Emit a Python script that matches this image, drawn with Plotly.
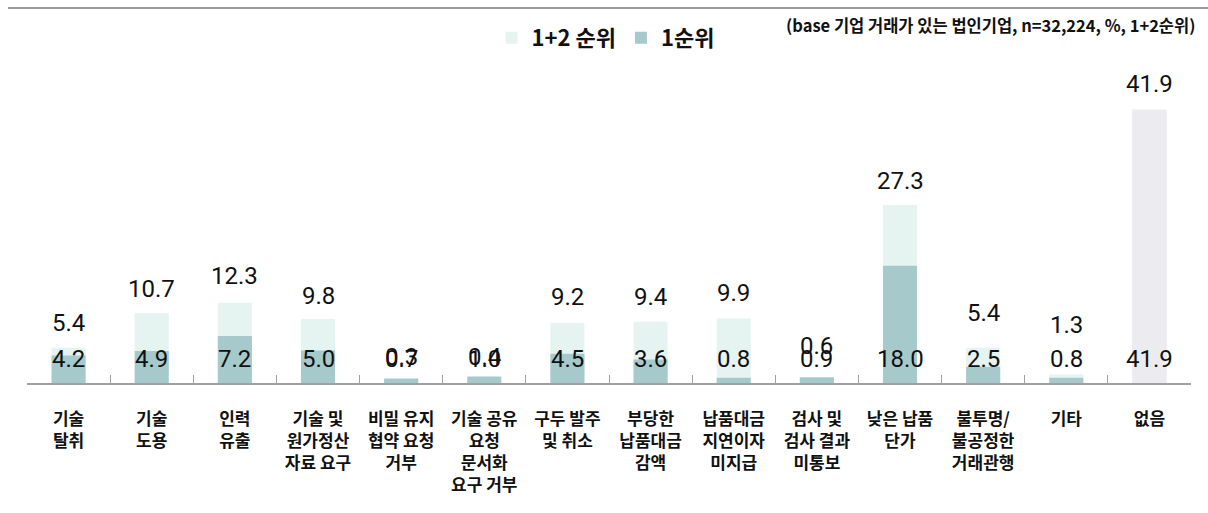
import plotly.graph_objects as go

# Categories (line breaks as they appear under the axis)
categories = [
    "기술<br>탈취",
    "기술<br>도용",
    "인력<br>유출",
    "기술 및<br>원가정산<br>자료 요구",
    "비밀 유지<br>협약 요청<br>거부",
    "기술 공유<br>요청<br>문서화<br>요구 거부",
    "구두 발주<br>및 취소",
    "부당한<br>납품대금<br>감액",
    "납품대금<br>지연이자<br>미지급",
    "검사 및<br>검사 결과<br>미통보",
    "낮은 납품<br>단가",
    "불투명/<br>불공정한<br>거래관행",
    "기타",
    "없음",
]

# Series values (%)
rank_1_2 = [5.4, 10.7, 12.3, 9.8, 0.3, 0.4, 9.2, 9.4, 9.9, 0.6, 27.3, 5.4, 1.3, 41.9]
rank_1 = [4.2, 4.9, 7.2, 5.0, 0.7, 1.0, 4.5, 3.6, 0.8, 0.9, 18.0, 2.5, 0.8, 41.9]

# Pixel nudges for the 1+2 value labels above each bar
label_lift = [25, 24, 27, 23, 24, 23, 26, 25, 25, 33, 24, 35, 50, 26]

LIGHT = "#E6F4F1"
TEAL = "#A6CACC"
NONE_GRAY = "#EBEBF0"
AXIS_GRAY = "#A0A0A0"
VAL_FONT = "Roboto"
KR_FONT = "Noto Sans CJK KR"

light_colors = [LIGHT] * (len(categories) - 1) + [NONE_GRAY]
teal_colors = [TEAL] * (len(categories) - 1) + [NONE_GRAY]

fig = go.Figure()
fig.add_trace(go.Bar(
    x=categories, y=rank_1_2, name="1+2 순위",
    marker=dict(color=light_colors, line=dict(width=0)),
    width=0.41, hoverinfo="skip",
))
fig.add_trace(go.Bar(
    x=categories, y=rank_1, name="1순위",
    marker=dict(color=teal_colors, line=dict(width=0)),
    width=0.41, hoverinfo="skip",
))

annotations = []
for cat, v12, v1, lift in zip(categories, rank_1_2, rank_1, label_lift):
    annotations.append(dict(
        x=cat, y=v12, xref="x", yref="y", text=f"{v12:.1f}",
        showarrow=False, yanchor="middle", yshift=lift,
        font=dict(family=VAL_FONT, size=24, color="#111"),
    ))
    annotations.append(dict(
        x=cat, y=0, xref="x", yref="y", text=f"{v1:.1f}",
        showarrow=False, yanchor="middle", yshift=24,
        font=dict(family=VAL_FONT, size=24, color="#111"),
    ))

annotations.append(dict(
    x=1.0052, y=1.108, xref="paper", yref="paper",
    text="(base 기업 거래가 있는 법인기업, n=32,224, %, 1+2순위)",
    showarrow=False, xanchor="right", yanchor="middle",
    font=dict(family=KR_FONT, size=16.5, color="#111", weight=700),
))

fig.update_layout(
    width=1208, height=513,
    margin=dict(l=27, r=17, t=60, b=130),
    paper_bgcolor="white", plot_bgcolor="white",
    barmode="overlay",
    showlegend=True,
    legend=dict(
        orientation="h", x=0.497, xanchor="center", y=1.068, yanchor="middle",
        font=dict(family=KR_FONT, size=22, color="#111", weight=700),
        itemwidth=30, traceorder="normal", bgcolor="rgba(0,0,0,0)",
    ),
    annotations=annotations,
    shapes=[dict(
        type="line", xref="paper", yref="paper",
        x0=-0.0163, x1=1.0146, y0=1.161, y1=1.161,
        line=dict(color="#9A9A9A", width=2),
    )],
    xaxis=dict(
        type="category", showline=True, linecolor=AXIS_GRAY, linewidth=1.5,
        ticks="inside", tickson="boundaries", ticklen=8, tickcolor=AXIS_GRAY,
        tickwidth=1, showgrid=False, zeroline=False,
        tickfont=dict(family=KR_FONT, size=17, color="#111", weight=700),
        ticklabelstandoff=20,
    ),
    yaxis=dict(range=[0, 49.54], visible=False, showgrid=False, zeroline=False),
)

fig.write_html("out.html")
